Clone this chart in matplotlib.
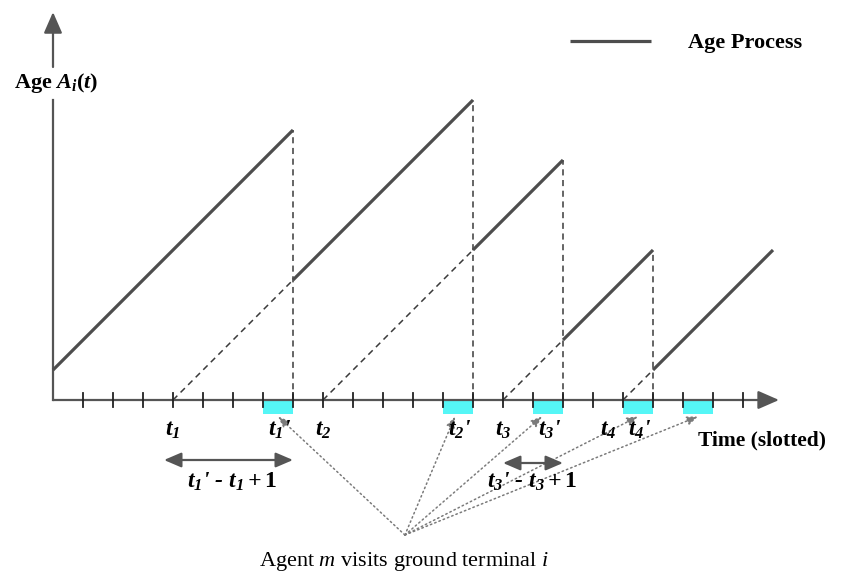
import matplotlib
matplotlib.use("Agg")
import matplotlib.pyplot as plt
from matplotlib.patches import Rectangle

plt.rcParams['mathtext.fontset'] = 'custom'
plt.rcParams['mathtext.rm'] = 'Liberation Serif:bold:italic'
plt.rcParams['mathtext.it'] = 'Liberation Serif:bold:italic'
plt.rcParams['mathtext.bf'] = 'Liberation Serif:bold'
plt.rcParams['mathtext.sf'] = 'Liberation Serif:italic'

# ---------------- data ----------------
n_slots = 23
gen_times = [4, 9, 15, 19]            # t_k  (generation times)
recv_times = [8, 14, 17, 20]          # t_k' (reception times)
visit_slots = [8, 14, 17, 20, 22]     # slots during which the agent visits terminal i
seg_start = [0, 8, 14, 17, 20]
seg_end = [8, 14, 17, 20, 24]
age_start = [1, 4, 5, 2, 1]
age_end = [9, 10, 8, 5, 5]
t_labels = [r"$t_1$", r"$t_2$", r"$t_3$", r"$t_4$"]
tp_labels = [r"$t_1$'", r"$t_2$'", r"$t_3$'", r"$t_4$'"]
t_label_shift = [0, 0, 0, -0.5]
interval_pairs = [(0, r"$t_1$' - $t_1 + \mathbf{1}$"), (2, r"$t_3$' - $t_3 + \mathbf{1}$")]

line_c = '#4d4d4d'
axis_c = '#555555'
dash_c = '#3a3a3a'
cyan = '#55F6F6'

fig = plt.figure(figsize=(8.48, 5.73), dpi=100)
ax = fig.add_axes([0, 0, 1, 1])
ax.set_xlim(-53 / 30, (848 - 53) / 30)
ax.set_ylim((400 - 573) / 30, 400 / 30)
ax.axis('off')

# visit boxes
for k in visit_slots:
    ax.add_patch(Rectangle((k - 1, -0.47), 1, 0.47, facecolor=cyan, edgecolor='none', zorder=1))

# x axis
ax.annotate('', xy=(24.2, 0), xytext=(0, 0),
            arrowprops=dict(arrowstyle='-|>,head_length=0.8,head_width=0.35', color=axis_c, lw=1.6,
                            shrinkA=0, shrinkB=0, mutation_scale=16), zorder=3)
# ticks
for k in range(1, n_slots + 1):
    ax.plot([k, k], [-0.233, 0.233], color='#222222', lw=1.3, zorder=3)

# y axis (broken for label)
ax.plot([0, 0], [0, 10.0], color=axis_c, lw=1.6, zorder=3)
ax.annotate('', xy=(0, 12.93), xytext=(0, 11.1),
            arrowprops=dict(arrowstyle='-|>,head_length=0.8,head_width=0.35', color=axis_c, lw=1.6,
                            shrinkA=0, shrinkB=0, mutation_scale=16), zorder=3)

# age process
for s, e, a0, a1 in zip(seg_start, seg_end, age_start, age_end):
    ax.plot([s, e], [a0, a1], color=line_c, lw=2.3, solid_capstyle='butt', zorder=4)

# drops (vertical dashed) and virtual age from generation (slanted dashed)
for i, (tg, tr) in enumerate(zip(gen_times, recv_times)):
    ax.plot([tr, tr], [0, age_end[i]], color=dash_c, lw=1.1, ls=(0, (4, 3)), zorder=2)
    ax.plot([tg, tr], [0, age_start[i + 1]], color=dash_c, lw=1.1, ls=(0, (4, 3)), zorder=2)

tfont = dict(family='Liberation Serif', fontweight='bold', fontstyle='italic')

# time labels
for i, (tg, tr) in enumerate(zip(gen_times, recv_times)):
    ax.text(tg + t_label_shift[i], -1.2, t_labels[i], fontsize=17, ha='center', va='baseline',
            zorder=5, **tfont)
    ax.text(tr - 0.43, -1.2, tp_labels[i], fontsize=17, ha='center', va='baseline',
            zorder=5, **tfont)

ax.text(23.63, -1.5, 'Time (slotted)', fontsize=15.5, fontweight='bold', ha='center', va='baseline',
        family='Liberation Serif')

# interval arrows
arrow_y = [-2.0, -2.1]
arrow_left = [3.7, 15.0]
for j, (idx, lab) in enumerate(interval_pairs):
    ax.annotate('', xy=(recv_times[idx], arrow_y[j]), xytext=(arrow_left[j], arrow_y[j]),
                arrowprops=dict(arrowstyle='<|-|>,head_length=0.7,head_width=0.3', color=axis_c, lw=1.6,
                                shrinkA=0, shrinkB=0, mutation_scale=15), zorder=3)
    cx = 5.97 if j == 0 else 15.97
    ax.text(cx, -2.93, lab, fontsize=17, ha='center', va='baseline', zorder=5, **tfont)

# dotted pointers from agent label to visit boxes
origin = (11.73, -4.5)
offsets = [0.0, -0.1, -0.2, 0.0, 0.0]
for k, off in zip(visit_slots, offsets):
    ax.annotate('', xy=(k - 0.5 + off, -0.55), xytext=origin,
                arrowprops=dict(arrowstyle='-|>,head_length=0.5,head_width=0.2', color='#7a7a7a', lw=1.1,
                                ls=(0, (1, 2)), shrinkA=0, shrinkB=0, mutation_scale=13), zorder=2)

ax.text(11.7, -5.53, r"Agent $\mathsf{m}$ visits ground terminal $\mathsf{i}$", fontsize=16,
        ha='center', va='baseline', family='Liberation Serif')

# axis label
ax.text(0.1, 10.4, r"Age $A_i\mathbf{(}t\mathbf{)}$", fontsize=16, fontweight='bold', ha='center',
        va='baseline', family='Liberation Serif')

# legend
ax.plot([17.23, 19.93], [11.97, 11.97], color=line_c, lw=2.3, solid_capstyle='butt')
ax.text(23.07, 11.73, 'Age Process', fontsize=16, fontweight='bold', ha='center', va='baseline',
        family='Liberation Serif')

fig.savefig('out.png', dpi=100)
